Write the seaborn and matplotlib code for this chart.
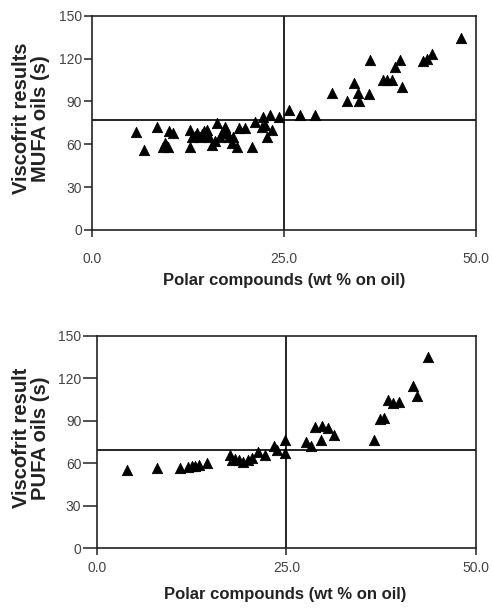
import matplotlib
matplotlib.use("Agg")
import matplotlib.pyplot as plt
import seaborn as sns
import pandas as pd

# Dados - painel MUFA
mufa_polar = [5.8, 6.8, 8.5, 9.3, 9.5, 9.7, 9.9, 10.0, 10.6, 12.8, 12.8, 13.0, 13.4,
              13.7, 14.1, 14.3, 14.6, 15.0, 15.2, 15.6, 16.0, 16.3, 16.7, 16.9, 17.3,
              17.6, 17.8, 18.2, 18.4, 18.9, 19.1, 19.9, 20.8, 21.2, 22.1, 22.3, 22.5,
              22.75, 23.2, 23.4, 24.3, 25.6, 27.1, 29.0, 31.2, 33.2, 34.1, 34.6, 34.8,
              36.0, 36.2, 37.9, 38.4, 39.0, 39.5, 40.1, 40.3, 43.1, 43.6, 44.2, 48.0]
mufa_visc = [68.9, 56.0, 72.4, 58.0, 61.0, 59.6, 58.0, 69.0, 67.8, 70.0, 58.4, 65.0, 66.0,
             68.0, 65.4, 67.0, 69.0, 70.0, 65.0, 59.6, 62.0, 74.8, 65.4, 68.0, 72.4,
             68.0, 65.4, 60.8, 65.0, 58.4, 71.3, 71.3, 58.4, 75.9, 72.0, 79.4, 73.5,
             65.4, 80.6, 70.0, 79.4, 84.0, 80.6, 80.6, 96.0, 90.0, 103.0, 96.0, 90.0,
             95.0, 119.0, 105.0, 105.0, 105.0, 114.0, 119.0, 100.0, 118.0, 120.0, 123.0, 134.5]

# Dados - painel PUFA
pufa_polar = [4.0, 8.0, 11.0, 12.1, 12.5, 13.0, 13.5, 14.6, 17.6, 17.8, 18.2, 18.7,
              19.3, 20.0, 20.4, 21.3, 22.2, 23.3, 23.7, 24.8, 24.8, 27.6, 28.3, 28.8,
              29.5, 29.7, 30.5, 31.2, 36.5, 37.3, 37.9, 38.4, 39.1, 39.8, 41.7, 42.2, 43.6]
pufa_visc = [55.3, 56.4, 56.4, 57.6, 58.3, 58.3, 58.8, 60.0, 65.8, 62.3, 62.8, 62.3,
             61.1, 62.3, 63.5, 68.2, 65.8, 72.2, 69.4, 76.4, 67.0, 75.2, 72.2, 85.8,
             76.4, 86.3, 84.6, 80.0, 76.4, 91.0, 91.7, 104.6, 102.3, 103.5, 114.5, 107.5, 134.7]

mufa_hline = 77
pufa_hline = 69.5
vline = 25.0

x_ticks = [0, 25, 50]
x_labels = ["0.0", "25.0", "50.0"]
y_ticks = [0, 30, 60, 90, 120, 150]

sns.set_style("ticks")
plt.rcParams['font.family'] = ['Liberation Sans', 'DejaVu Sans']

fig = plt.figure(figsize=(4.93, 6.08), dpi=100)
ax1 = fig.add_axes([0.186, 0.622, 0.780, 0.352])
ax2 = fig.add_axes([0.196, 0.098, 0.770, 0.350])

# (eixo, x, y, linha horizontal, rotulo y, pos. rotulo y, pos. rotulo x, pad ticks x, tam. tick y)
paineis = [
    (ax1, mufa_polar, mufa_visc, mufa_hline, "Viscofrit results\nMUFA oils (s)",
     (-0.108, 0.52), (0.50, -0.20), 11, 6),
    (ax2, pufa_polar, pufa_visc, pufa_hline, "Viscofrit result\nPUFA oils (s)",
     (-0.123, 0.52), (0.496, -0.18), 4, 10),
]

for ax, xs, ys, h, ylab, ypos, xpos, xpad, ylen in paineis:
    df = pd.DataFrame({"polar": xs, "visc": ys})
    sns.scatterplot(data=df, x="polar", y="visc", marker="^", color="black",
                    s=55, edgecolor="black", linewidth=0.6, ax=ax, zorder=3)
    ax.axhline(h, color="black", lw=1.2, zorder=2)
    ax.axvline(vline, color="black", lw=1.2, zorder=2)
    ax.set_xlim(0, 50)
    ax.set_ylim(0, 150)
    ax.set_xticks(x_ticks)
    ax.set_xticklabels(x_labels)
    ax.set_yticks(y_ticks)
    ax.tick_params(axis="both", direction="out", width=1.1,
                   labelsize=10, colors="#222222", labelcolor="#444444")
    ax.tick_params(axis="x", length=5, pad=xpad)
    ax.tick_params(axis="y", length=ylen, pad=1)
    for sp in ax.spines.values():
        sp.set_visible(True)
        sp.set_linewidth(1.2)
        sp.set_color("#222222")
    ax.set_xlabel("Polar compounds (wt % on oil)", fontsize=12, fontweight="bold",
                  color="#222222")
    ax.set_ylabel(ylab, fontsize=14.5, fontweight="bold", color="#222222",
                  linespacing=1.0)
    ax.yaxis.set_label_coords(*ypos)
    ax.xaxis.set_label_coords(*xpos)

fig.savefig("out.png", dpi=100)
